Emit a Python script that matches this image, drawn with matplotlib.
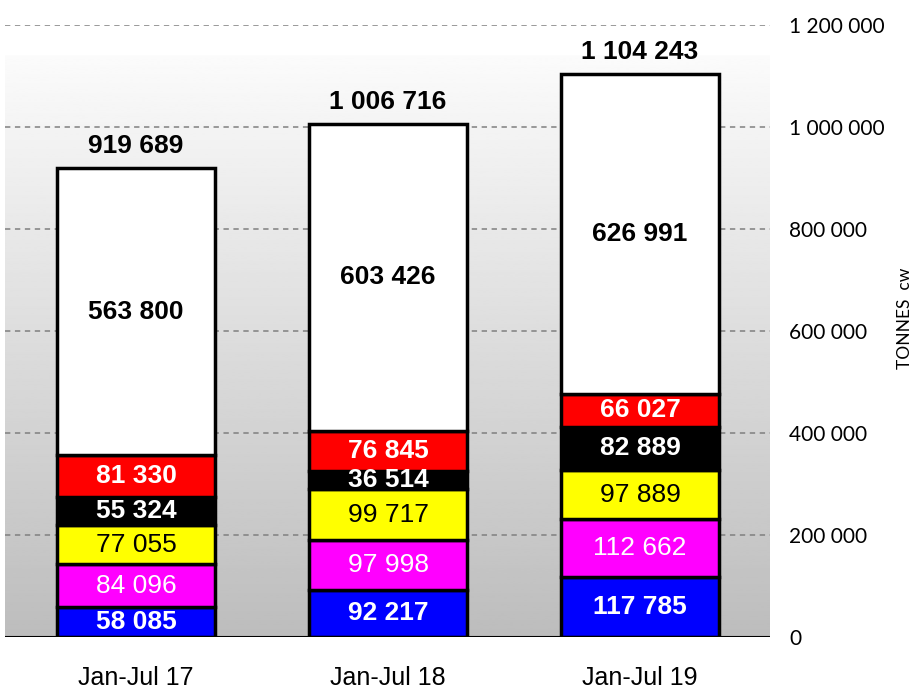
import numpy as np
import matplotlib
matplotlib.use("Agg")
import matplotlib.pyplot as plt

categories = ["Jan-Jul 17", "Jan-Jul 18", "Jan-Jul 19"]
blue = [58085, 92217, 117785]
magenta = [84096, 97998, 112662]
yellow = [77055, 99717, 97889]
black = [55324, 36514, 82889]
red = [81330, 76845, 66027]
white = [563800, 603426, 626991]
totals = [919689, 1006716, 1104243]
yticks = [0, 200000, 400000, 600000, 800000, 1000000, 1200000]

narrow = ["Liberation Sans", "DejaVu Sans"]
regular = ["Lato", "DejaVu Sans"]


def fmt(v):
    return f"{v:,}".replace(",", " ")


fig = plt.figure(figsize=(9.16, 6.95), dpi=100)
ax = fig.add_axes([5 / 916, 58 / 695, 765 / 916, 612 / 695])

# grey gradient backdrop of the plot area
grad = np.linspace(0.985, 0.74, 256).reshape(-1, 1)
ax.imshow(grad, cmap="gray", vmin=0, vmax=1, aspect="auto",
          extent=[-0.52, 2.516, 0, 1141000], zorder=0)
ax.set_xlim(-0.52, 2.516)
ax.set_ylim(0, 1200000)

for y in yticks[1:]:
    ax.axhline(y, color="#7f7f7f", linestyle=(0, (3.5, 3)), linewidth=1.1, zorder=1)

x = np.arange(len(categories))
series = [
    (blue, "#0000ff", "white", "bold"),
    (magenta, "#ff00ff", "white", "normal"),
    (yellow, "#ffff00", "black", "normal"),
    (black, "#000000", "white", "bold"),
    (red, "#ff0000", "white", "bold"),
    (white, "#ffffff", "black", "bold"),
]
bottom = np.zeros(len(categories))
for vals, col, tcol, weight in series:
    vals = np.array(vals)
    ax.bar(x, vals, 0.63, bottom=bottom, color=col, edgecolor="black",
           linewidth=2.5, zorder=3)
    for xi, b, v in zip(x, bottom, vals):
        ax.text(xi, b + v / 2, fmt(int(v)), ha="center", va="center",
                color=tcol, fontsize=19, fontweight=weight, family=narrow,
                zorder=4)
    bottom += vals

for xi, t in zip(x, totals):
    ax.annotate(fmt(t), (xi, t), xytext=(0, 7), textcoords="offset points",
                ha="center", va="bottom", fontsize=19, fontweight="bold",
                family=narrow)

ax.axhline(0, color="black", linewidth=1.5, zorder=5)

ax.yaxis.tick_right()
ax.set_yticks(yticks)
ax.set_yticklabels([fmt(v) for v in yticks], family=regular, fontsize=15)
ax.tick_params(axis="y", length=0, pad=14)
ax.set_xticks(x)
ax.set_xticklabels(categories, family=narrow, fontsize=18)
ax.tick_params(axis="x", length=0, pad=21)
for s in ax.spines.values():
    s.set_visible(False)

fig.text(905 / 916, 1 - 318 / 695, "TONNES  cw", rotation=90, ha="center",
         va="center", fontsize=12.5, family=regular)

fig.savefig("out.png", dpi=100)
